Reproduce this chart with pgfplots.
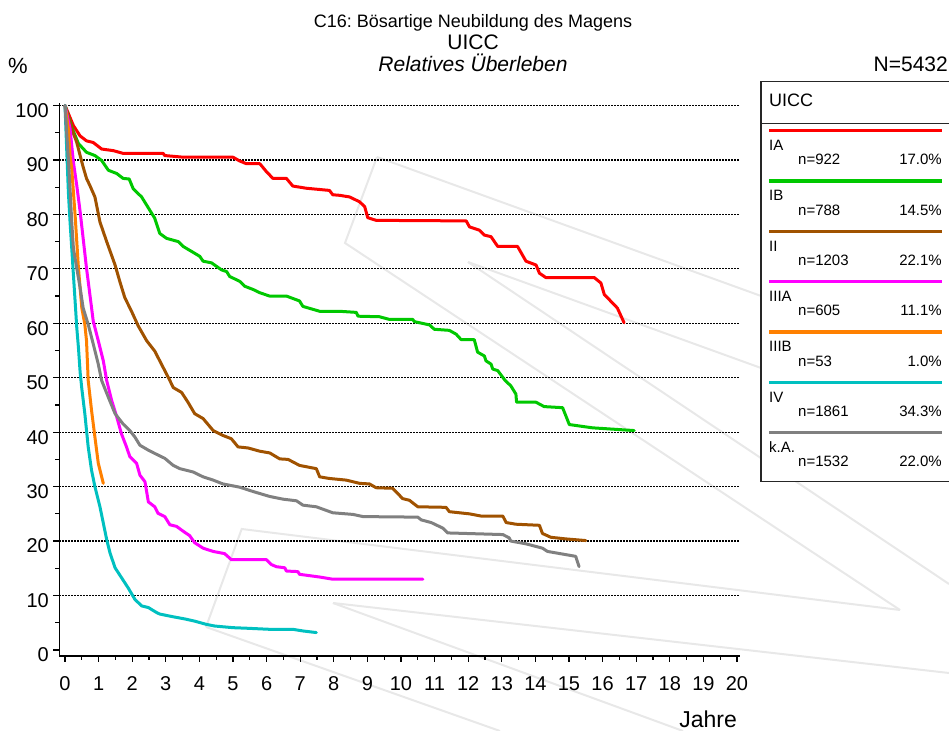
\documentclass[border=0pt]{standalone}
\usepackage{fontspec}
\setmainfont{Liberation Sans}
\usepackage{pgfplots}
\pgfplotsset{compat=1.18}
\definecolor{cIA}{RGB}{255,0,0}
\definecolor{cIB}{RGB}{0,200,0}
\definecolor{cII}{RGB}{160,82,0}
\definecolor{cIIIA}{RGB}{255,0,255}
\definecolor{cIIIB}{RGB}{255,128,0}
\definecolor{cIV}{RGB}{0,192,192}
\definecolor{cKA}{RGB}{128,128,128}
\definecolor{wm}{RGB}{232,232,232}
\frenchspacing
\begin{document}
\begin{tikzpicture}[x=1bp,y=1bp]
\path[use as bounding box] (0,0) rectangle (949,731);
% faint background logo lines (pixel coordinates, y downwards)
\begin{scope}[shift={(0,731)}, y=-1bp, line width=2bp, wm]
\draw (377,157) -- (345,243) -- (900,610);
\draw (377,157) -- (949,364);
\draw (468,262) -- (949,436);
\draw (468,262) -- (949,584);
\draw (206,627) -- (241.7,529) -- (900,610);
\draw (206,627) -- (500,731);
\draw (333,603) -- (949,673);
\draw (333,603) -- (683,731);
\end{scope}
\begin{axis}[
  at={(59.3bp,75bp)}, anchor=south west,
  width=680.7bp, height=552.7bp, scale only axis,
  xmin=-0.17, xmax=20.09, ymin=-1.1, ymax=100.4,
  axis lines=left, axis line style={-, line width=1.4bp, black},
  xtick={0,...,20}, minor xtick={0.5,1.5,...,19.5},
  ytick={10,20,...,100}, extra y ticks={0}, extra y tick style={grid=none},
  minor ytick={5,15,...,95},
  tick align=outside, major tick length=6bp, minor tick length=4bp,
  tick style={black, line width=1.2bp},
  ymajorgrids, major grid style={black, line width=1.3bp, dash pattern=on 1.3bp off 1.7bp},
  ticklabel style={font=\fontsize{20bp}{24bp}\selectfont},
  xticklabel style={yshift=-11bp},
  yticklabel style={yshift=-5bp, xshift=-1bp},
  /pgf/number format/assume math mode=true,
  clip=false,
  every axis plot/.append style={line width=3bp, line join=round, line cap=round},
]
\addplot[cIA] coordinates {(0,100) (0.25,96.3) (0.45,94.4) (0.64,93.5) (0.84,93.2) (1.09,92.0) (1.44,91.7) (1.73,91.2) (2.92,91.2) (2.97,90.8) (3.52,90.5) (5.0,90.5) (5.2,89.8) (5.4,89.3) (5.8,89.3) (6.0,87.8) (6.19,86.6) (6.59,86.6) (6.78,85.2) (7.18,84.8) (7.87,84.4) (7.97,83.6) (8.17,83.5) (8.47,83.2) (8.77,82.3) (8.92,81.4) (9.01,79.4) (9.26,78.9) (11.94,78.8) (12.04,77.7) (12.33,77.1) (12.48,76.2) (12.68,75.9) (12.88,74.1) (13.47,74.1) (13.72,71.4) (14.02,70.7) (14.12,69.2) (14.31,68.4) (15.75,68.4) (15.95,67.4) (16.05,65.3) (16.44,62.8) (16.64,60.1)};
\addplot[cIB] coordinates {(0,100) (0.2,96) (0.4,93.0) (0.64,91.4) (0.89,90.8) (1.09,89.9) (1.29,88.1) (1.54,87.5) (1.73,86.6) (1.91,86.5) (2.03,84.7) (2.28,83.2) (2.43,81.7) (2.67,79.3) (2.82,76.5) (3.02,75.6) (3.37,75.0) (3.52,74.1) (4.01,72.3) (4.11,71.4) (4.36,71.1) (4.66,69.8) (4.81,69.5) (4.9,68.6) (5.2,67.7) (5.35,66.8) (5.6,66.2) (5.8,65.6) (6.09,65.0) (6.59,65.0) (6.98,64.1) (7.08,63.1) (7.58,62.2) (8.17,62.2) (8.67,62.0) (8.72,61.3) (9.36,61.2) (9.66,60.7) (10.35,60.7) (10.4,60.3) (10.85,59.7) (10.99,58.9) (11.44,58.7) (11.64,58.0) (11.79,57.0) (12.18,57.0) (12.28,54.7) (12.48,54.0) (12.53,53.1) (12.68,52.5) (12.73,51.6) (12.88,51.3) (13.1,49.5) (13.27,48.5) (13.42,47.0) (13.44,45.5) (14.02,45.5) (14.26,44.7) (14.81,44.5) (15.01,41.4) (15.7,40.8) (16.94,40.3)};
\addplot[cII] coordinates {(0,100) (0.2,95.7) (0.35,93.2) (0.45,90.8) (0.54,88.7) (0.64,86.6) (0.74,85.3) (0.89,83.2) (1.04,78.6) (1.24,75.0) (1.49,70.7) (1.63,67.7) (1.78,64.7) (1.98,62.2) (2.18,59.5) (2.43,56.8) (2.67,54.9) (2.82,53.1) (2.97,51.3) (3.12,49.5) (3.22,48.2) (3.47,47.3) (3.66,45.5) (3.86,43.4) (4.11,42.5) (4.41,40.3) (4.7,39.4) (4.95,38.8) (5.15,37.3) (5.45,37.1) (5.8,36.5) (6.09,36.2) (6.39,35.1) (6.64,35.0) (6.98,33.9) (7.48,33.3) (7.58,31.8) (7.87,31.5) (8.37,31.2) (8.77,30.6) (9.06,30.5) (9.26,29.8) (9.75,29.7) (10.05,27.8) (10.25,27.5) (10.5,26.3) (11.34,26.2) (11.44,25.4) (12.04,25.0) (12.38,24.6) (13.03,24.6) (13.13,23.4) (13.42,23.1) (14.12,22.9) (14.21,21.4) (14.46,20.7) (14.91,20.4) (15.5,20.1)};
\addplot[cIIIA] coordinates {(0,100) (0.15,95.7) (0.25,89.6) (0.35,85.3) (0.45,80.5) (0.54,75.6) (0.64,70.1) (0.74,65.3) (0.84,60.4) (0.99,56.8) (1.14,53.1) (1.24,49.5) (1.39,45.8) (1.54,42.8) (1.68,39.7) (1.83,37.3) (1.93,35.5) (2.13,34.3) (2.23,32.1) (2.38,30.9) (2.48,27.2) (2.67,26.3) (2.77,25.1) (2.97,24.5) (3.12,23.0) (3.32,22.7) (3.52,21.8) (3.71,21.0) (3.86,19.7) (4.11,18.7) (4.41,18.1) (4.75,17.7) (4.95,16.6) (5.99,16.6) (6.14,15.7) (6.29,15.3) (6.54,15.1) (6.59,14.5) (6.93,14.4) (6.98,13.9) (7.58,13.4) (7.97,13.0) (10.65,13.0)};
\addplot[cIIIB] coordinates {(0,100) (0.1,95.7) (0.15,90.8) (0.2,88.4) (0.25,84.1) (0.3,79.9) (0.35,75.0) (0.4,70.1) (0.45,66.5) (0.5,62.8) (0.59,59.8) (0.64,56.8) (0.69,49.5) (0.79,44.0) (0.89,39.1) (0.99,34.3) (1.14,30.6)};
\addplot[cIV] coordinates {(0,100) (0.05,92.0) (0.1,84.1) (0.15,78.6) (0.2,73.8) (0.25,68.9) (0.3,64.1) (0.35,59.2) (0.4,55.5) (0.45,51) (0.5,48) (0.59,43.4) (0.69,37.3) (0.79,33.0) (0.89,30.0) (1.04,26.3) (1.14,23.3) (1.24,20.3) (1.34,17.8) (1.49,15.1) (1.68,13.3) (1.88,11.4) (2.08,9.3) (2.28,8.1) (2.48,7.8) (2.72,6.9) (2.82,6.6) (3.22,6.1) (3.57,5.7) (3.86,5.3) (4.21,4.7) (4.46,4.4) (5.0,4.1) (5.4,4.0) (6.09,3.8) (6.78,3.8) (7.08,3.5) (7.48,3.2)};
\addplot[cKA] coordinates {(0,100) (0.05,95) (0.1,90.2) (0.15,84.7) (0.2,78.6) (0.25,73.8) (0.35,70.1) (0.45,66.5) (0.54,62.8) (0.69,59.8) (0.84,56.2) (0.99,52.5) (1.09,49.5) (1.29,46.4) (1.49,43.4) (1.73,41.5) (1.93,40.3) (2.08,39.1) (2.23,37.6) (2.48,36.7) (2.67,36.1) (2.97,35.2) (3.22,33.9) (3.42,33.3) (3.81,32.7) (4.11,31.8) (4.41,31.2) (4.7,30.5) (5.2,29.9) (5.6,29.1) (6.09,28.2) (6.49,27.7) (6.89,27.4) (7.08,26.6) (7.48,26.3) (7.97,25.2) (8.57,24.9) (8.87,24.5) (10.5,24.4) (10.6,23.9) (10.9,23.4) (11.24,22.4) (11.39,21.5) (13.03,21.2) (13.22,20.6) (13.27,20.0) (13.72,19.5) (14.21,18.7) (14.36,18.1) (15.2,17.2) (15.3,15.3)};
\end{axis}
% titles, labels and legend (pixel coordinates, y downwards)
\begin{scope}[shift={(0,731)}, y=-1bp]
\node[anchor=base, inner sep=0] at (473,28) {\fontsize{18bp}{20bp}\selectfont C16: Bösartige Neubildung des Magens};
\node[anchor=base, inner sep=0] at (473,50) {\fontsize{21bp}{24bp}\selectfont UICC};
\node[anchor=base, inner sep=0] at (473,71.5) {\fontsize{21bp}{24bp}\selectfont\itshape Relatives Überleben};
\node[anchor=base west, inner sep=0] at (8,74) {\fontsize{22bp}{24bp}\selectfont \%};
\node[anchor=base east, inner sep=0] at (948,72) {\fontsize{21bp}{24bp}\selectfont N=5432};
\node[anchor=base east, inner sep=0] at (737,728) {\fontsize{23bp}{26bp}\selectfont Jahre};
\fill[white] (761,81.7) rectangle (955,481.7);
\draw[line width=1.3bp, black!85] (955,81.7) -- (761,81.7) -- (761,481.7) -- (955,481.7);
\draw[line width=1.3bp, black!85] (761,123.3) -- (955,123.3);
\node[anchor=base west, inner sep=0] at (769,106.5) {\fontsize{18bp}{20bp}\selectfont UICC};
\foreach \c/\nm/\n/\p [count=\i from 0] in {cIA/IA/922/17.0, cIB/IB/788/14.5, cII/II/1203/22.1, cIIIA/IIIA/605/11.1, cIIIB/IIIB/53/1.0, cIV/IV/1861/34.3, cKA/k.A./1532/22.0}{
  \draw[\c, line width=3.3bp] (769,130.7+50.3*\i) -- (942,130.7+50.3*\i);
  \node[anchor=base west, inner sep=0] at (769,150.7+50.3*\i) {\fontsize{15bp}{17bp}\selectfont \nm};
  \node[anchor=base west, inner sep=0] at (798,165+50.3*\i) {\fontsize{15bp}{17bp}\selectfont n=\n};
  \node[anchor=base east, inner sep=0] at (942,165+50.3*\i) {\fontsize{15bp}{17bp}\selectfont \p\%};
}
\end{scope}
\end{tikzpicture}
\end{document}
